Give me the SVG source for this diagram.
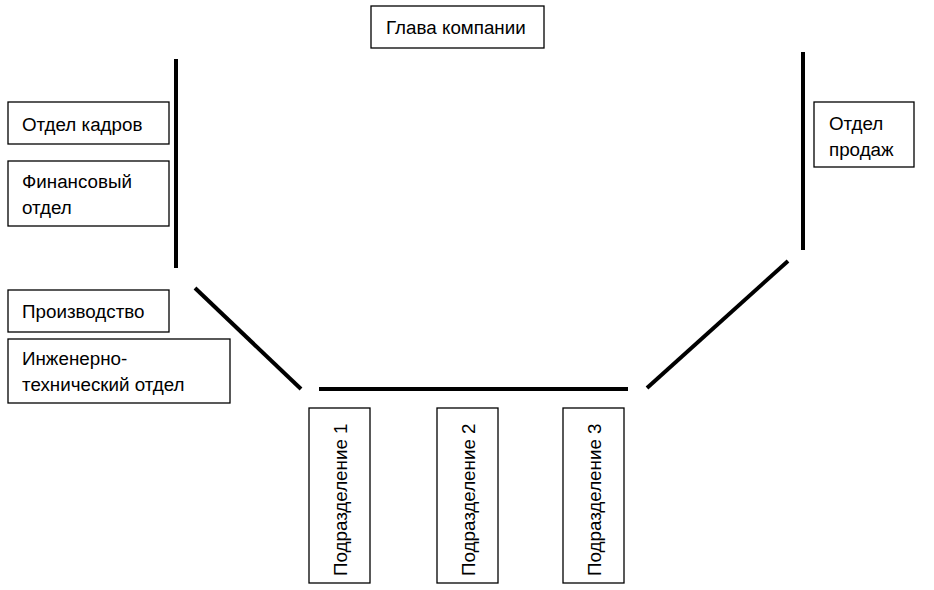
<svg xmlns="http://www.w3.org/2000/svg" width="934" height="590" viewBox="0 0 934 590">
<style>
.box{fill:#fff;stroke:#000;stroke-width:1.3}
.t{font-family:"Liberation Sans",Arial,sans-serif;font-size:18.8px;fill:#000}
.ln{stroke:#000;stroke-width:4;fill:none}
</style>
<rect width="934" height="590" fill="#fff"/>
<g id="connectors">
<line class="ln" x1="176" y1="59" x2="176" y2="268"/>
<line class="ln" x1="195" y1="288" x2="301" y2="389"/>
<line class="ln" x1="319" y1="389" x2="628" y2="389"/>
<line class="ln" x1="647" y1="388" x2="788" y2="261"/>
<line class="ln" x1="803" y1="52" x2="803" y2="250"/>
</g>
<g id="head"><rect class="box" x="371" y="6" width="173" height="42"/><text class="t" x="386" y="34">Глава компании</text></g>
<g id="hr"><rect class="box" x="8" y="102" width="161" height="42"/><text class="t" x="22" y="131">Отдел кадров</text></g>
<g id="fin"><rect class="box" x="8" y="161" width="161" height="65"/><text class="t" x="22" y="188">Финансовый</text><text class="t" x="22" y="214">отдел</text></g>
<g id="prod"><rect class="box" x="8" y="290" width="161" height="42"/><text class="t" x="22" y="318">Производство</text></g>
<g id="eng"><rect class="box" x="8" y="339" width="222" height="64"/><text class="t" x="22" y="365">Инженерно-</text><text class="t" x="22" y="391">технический отдел</text></g>
<g id="sales"><rect class="box" x="814" y="102" width="100" height="65"/><text class="t" x="829" y="130">Отдел</text><text class="t" x="829" y="156">продаж</text></g>
<g id="div1"><rect class="box" x="309" y="408" width="61" height="175"/><text class="t" transform="translate(347,576) rotate(-90)">Подразделение 1</text></g>
<g id="div2"><rect class="box" x="437" y="408" width="61" height="175"/><text class="t" transform="translate(475,576) rotate(-90)">Подразделение 2</text></g>
<g id="div3"><rect class="box" x="563" y="408" width="61" height="175"/><text class="t" transform="translate(601,576) rotate(-90)">Подразделение 3</text></g>
</svg>
